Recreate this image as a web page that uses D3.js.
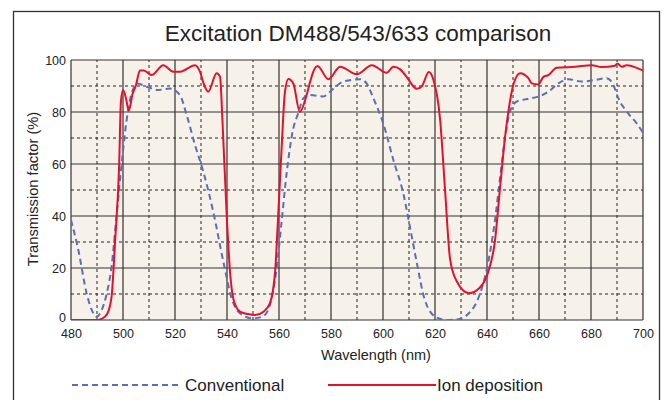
<!DOCTYPE html>
<html>
<head>
<meta charset="utf-8">
<style>
body { margin: 0; background: #fff; }
svg { display: block; font-family: "Liberation Sans", Arial, sans-serif; }
</style>
</head>
<body>
<div id="chart"></div>
<script src="https://cdn.jsdelivr.net/npm/d3@7/dist/d3.min.js"></script>
<script>
// Ion deposition curve
const ionNm = [480, 485, 490, 492, 494, 495.6, 497, 498.5, 499.2, 500, 501.2, 502.2, 503.7, 505, 506.5, 508, 511, 515.5, 519.4, 522, 527.7, 529.6, 531, 532.8, 536, 537.3, 538.3, 539.9, 541.2, 542.6, 545, 548, 550.8, 554, 556.5, 558.5, 559.7, 561, 562.3, 563.6, 565.5, 568, 570.6, 572, 573.2, 574.8, 579, 583.5, 589.9, 595.7, 601.4, 604, 606.5, 609, 613, 615, 617.6, 619.2, 622, 623.8, 625.8, 628.3, 633, 637, 640.5, 643, 645, 646.9, 648.2, 650.1, 652.7, 655.9, 657.2, 659.7, 661.7, 663.6, 666.8, 673.8, 680.3, 684.1, 689.2, 690.2, 691.8, 693.7, 699.5, 700];
const ionT = [0, 0, 0, 0.5, 2.5, 9, 31, 59, 84, 88.5, 85, 80.5, 87, 90.4, 96, 96, 94.2, 98, 95.5, 95.5, 98, 95.5, 91, 87.8, 94.9, 93.6, 75.6, 40, 18, 7.5, 3.2, 2.3, 1.9, 3.2, 6.4, 18.6, 40.4, 66, 87.8, 92.7, 91, 80, 86.5, 91.7, 95.5, 97.7, 92.6, 97.4, 94.5, 98, 95.1, 97.4, 96.5, 93.6, 88.9, 90, 95.4, 93, 76.7, 51, 23.4, 15, 10.3, 12.2, 18.6, 30, 50.6, 70, 80, 90.4, 94.9, 93, 91, 90.6, 93.5, 94.2, 97, 97.4, 98, 97.3, 97.8, 98.7, 97.4, 98, 96.2, 96];

// Conventional curve
const convNm = [480, 482.8, 486, 488, 489.9, 491.8, 493.7, 495.6, 497.6, 499.5, 501.4, 502.7, 504, 505.5, 509.1, 513.6, 518, 521.9, 524.5, 527.7, 530.9, 534.7, 538.6, 541.8, 545, 550.1, 554, 556.5, 559.1, 561, 563, 565.5, 567.4, 569.4, 572, 577, 580.9, 584.7, 591.2, 593.7, 596.3, 600.1, 604, 607.8, 610.4, 613, 616, 620.5, 624.5, 629.6, 633, 636.5, 640.5, 643, 645, 646.9, 648.8, 651.4, 655.5, 659.7, 663.6, 667.4, 671.3, 676.4, 681.5, 686, 688.6, 690.5, 694.3, 697.6, 700];
const convT = [38.5, 27, 10.3, 3.8, 1.3, 3.8, 10, 20.5, 41, 60.3, 77, 84.6, 89, 91, 89.7, 88.5, 89, 86.5, 78.8, 67.3, 57, 41.7, 22.4, 8.3, 2.6, 0.6, 1.5, 5.8, 19.9, 37.8, 57, 73.7, 79.5, 85.3, 86.5, 86, 89, 91.7, 92.6, 91, 85.3, 75.6, 61.5, 48.7, 35.6, 22, 8, 1, 0, 0.4, 2.6, 8, 22.4, 37.8, 54.5, 70, 80, 84, 85, 85.9, 87.8, 91, 92.6, 91.7, 92.3, 93, 90.4, 85.3, 79.5, 75.6, 72];

const xTicks = [480, 500, 520, 540, 560, 580, 600, 620, 640, 660, 680, 700];
const yTicks = [0, 20, 40, 60, 80, 100];
const xMinor = [490, 510, 530, 550, 570, 590, 610, 630, 650, 670, 690];
const yMinor = [10, 30, 50, 70, 90];

const width = 665, height = 400;
const margin = {top: 60, right: 22, bottom: 80, left: 71};

const svg = d3.select("#chart").append("svg")
    .attr("width", width)
    .attr("height", height);

// outer frame
svg.append("rect")
    .attr("x", 13.5).attr("y", 11.5)
    .attr("width", 646).attr("height", 400)
    .attr("fill", "none")
    .attr("stroke", "#333")
    .attr("stroke-width", 1.3);

const x = d3.scaleLinear().domain([480, 700]).range([margin.left, width - margin.right]);
const y = d3.scaleLinear().domain([0, 100]).range([height - margin.bottom, margin.top]);

// plot background
svg.append("rect")
    .attr("x", x(480)).attr("y", y(100))
    .attr("width", x(700) - x(480)).attr("height", y(0) - y(100))
    .attr("fill", "#f6f2ea");

const grid = svg.append("g");

grid.selectAll(".vminor").data(xMinor).join("line")
    .attr("x1", d => x(d)).attr("x2", d => x(d))
    .attr("y1", y(0)).attr("y2", y(100))
    .attr("stroke", "#222").attr("stroke-width", 1)
    .attr("stroke-dasharray", "3,3");

grid.selectAll(".hminor").data(yMinor).join("line")
    .attr("x1", x(480)).attr("x2", x(700))
    .attr("y1", d => y(d)).attr("y2", d => y(d))
    .attr("stroke", "#222").attr("stroke-width", 1)
    .attr("stroke-dasharray", "3,3");

grid.selectAll(".vmajor").data(xTicks).join("line")
    .attr("x1", d => x(d)).attr("x2", d => x(d))
    .attr("y1", y(0)).attr("y2", y(100))
    .attr("stroke", "#333").attr("stroke-width", 1.2);

grid.selectAll(".hmajor").data(yTicks).join("line")
    .attr("x1", x(480)).attr("x2", x(700))
    .attr("y1", d => y(d)).attr("y2", d => y(d))
    .attr("stroke", "#333").attr("stroke-width", 1.2);

// axes (labels only)
const xAxis = svg.append("g")
    .attr("transform", `translate(0,${y(0)})`)
    .call(d3.axisBottom(x).tickValues(xTicks).tickSize(0).tickPadding(9));
xAxis.select(".domain").remove();
xAxis.selectAll("text").attr("font-size", 12.5).attr("fill", "#222")
    .attr("font-family", "Liberation Sans, Arial, sans-serif");

const yAxis = svg.append("g")
    .attr("transform", `translate(${x(480)},0)`)
    .call(d3.axisLeft(y).tickValues(yTicks).tickSize(0).tickPadding(5));
yAxis.select(".domain").remove();
yAxis.selectAll("text").attr("font-size", 12.5).attr("fill", "#222")
    .attr("font-family", "Liberation Sans, Arial, sans-serif")
    .attr("dy", d => d === 0 ? "0.1em" : "0.32em");

const line = d3.line()
    .x(d => x(d[0]))
    .y(d => y(d[1]))
    .curve(d3.curveMonotoneX);

svg.append("clipPath").attr("id", "plot")
  .append("rect")
    .attr("x", x(480)).attr("y", y(100) - 3)
    .attr("width", x(700) - x(480)).attr("height", y(0) - y(100) + 3);

svg.append("path")
    .datum(d3.zip(convNm, convT))
    .attr("clip-path", "url(#plot)")
    .attr("d", line)
    .attr("fill", "none")
    .attr("stroke", "#5a6db8")
    .attr("stroke-width", 2)
    .attr("stroke-dasharray", "6,4");

svg.append("path")
    .datum(d3.zip(ionNm, ionT))
    .attr("clip-path", "url(#plot)")
    .attr("d", line)
    .attr("fill", "none")
    .attr("stroke", "#e4102c")
    .attr("stroke-width", 2);

// title and axis labels
svg.append("text")
    .attr("x", 358).attr("y", 41)
    .attr("text-anchor", "middle")
    .attr("font-size", 22.5)
    .attr("fill", "#222")
    .text("Excitation DM488/543/633 comparison");

svg.append("text")
    .attr("x", 376).attr("y", 360)
    .attr("text-anchor", "middle")
    .attr("font-size", 14.5)
    .attr("fill", "#222")
    .text("Wavelength (nm)");

svg.append("text")
    .attr("transform", `translate(38,${(y(0) + y(100)) / 2 - 1}) rotate(-90)`)
    .attr("text-anchor", "middle")
    .attr("font-size", 14.7)
    .attr("fill", "#222")
    .text("Transmission factor (%)");

// legend
const legend = svg.append("g").attr("font-size", 17).attr("fill", "#222");
legend.append("line")
    .attr("x1", 72).attr("x2", 181).attr("y1", 385).attr("y2", 385)
    .attr("stroke", "#5a6db8").attr("stroke-width", 2).attr("stroke-dasharray", "6,4");
legend.append("text").attr("x", 185).attr("y", 391).text("Conventional");
legend.append("line")
    .attr("x1", 328).attr("x2", 436).attr("y1", 385).attr("y2", 385)
    .attr("stroke", "#e4102c").attr("stroke-width", 2);
legend.append("text").attr("x", 437).attr("y", 391).text("Ion deposition");
</script>
</body>
</html>
